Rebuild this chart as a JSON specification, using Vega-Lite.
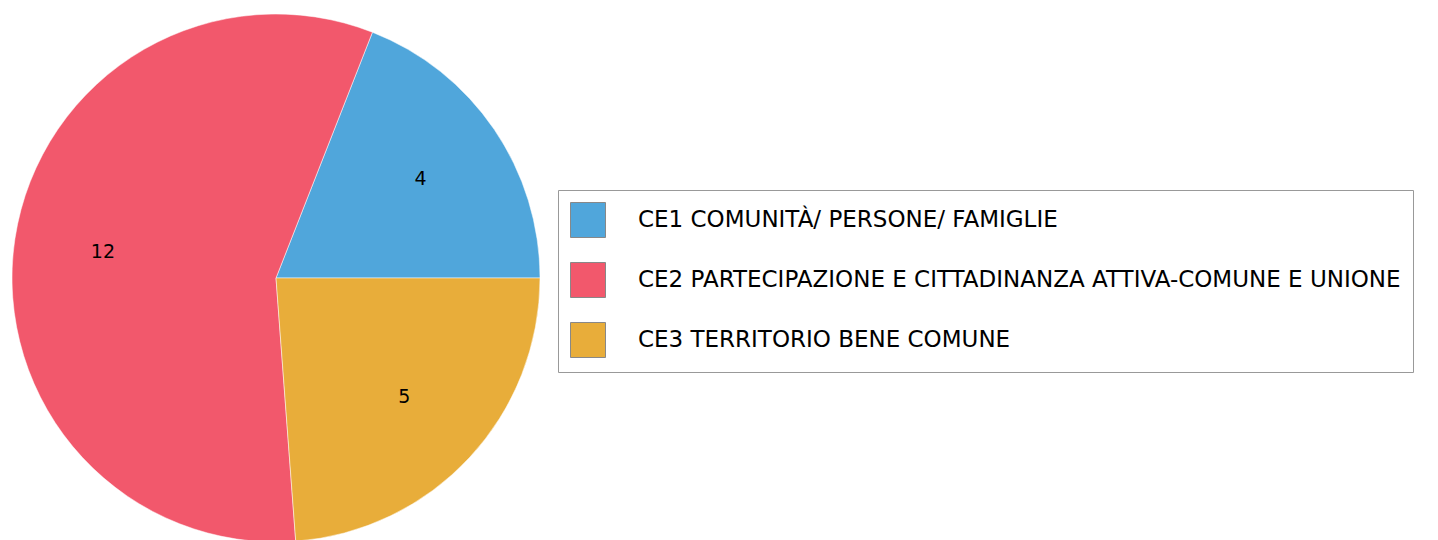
{
  "$schema": "https://vega.github.io/schema/vega-lite/v6.json",
  "width": 552,
  "height": 556,
  "autosize": "none",
  "padding": {"left": 0, "top": 0, "right": 886, "bottom": 0},
  "background": "white",
  "config": {"view": {"stroke": null}},
  "data": {
    "values": [
      {"categoria": "CE1 COMUNITÀ/ PERSONE/ FAMIGLIE", "valore": 4},
      {"categoria": "CE2 PARTECIPAZIONE E CITTADINANZA ATTIVA-COMUNE E UNIONE", "valore": 12},
      {"categoria": "CE3 TERRITORIO BENE COMUNE", "valore": 5}
    ]
  },
  "encoding": {
    "theta": {"field": "valore", "type": "quantitative", "stack": true, "scale": {"range": [{"expr": "PI/2"}, {"expr": "-3*PI/2"}]}},
    "order": {"field": "categoria", "sort": "ascending"},
    "color": {
      "field": "categoria",
      "type": "nominal",
      "scale": {
        "domain": ["CE1 COMUNITÀ/ PERSONE/ FAMIGLIE", "CE2 PARTECIPAZIONE E CITTADINANZA ATTIVA-COMUNE E UNIONE", "CE3 TERRITORIO BENE COMUNE"],
        "range": ["#50A6DB", "#F2586C", "#E8AD3A"]
      },
      "legend": {
        "title": null,
        "orient": "none",
        "legendX": 558,
        "legendY": 190,
        "symbolType": "square",
        "symbolSize": 1225,
        "symbolStrokeColor": "#888888",
        "symbolStrokeWidth": 1,
        "symbolOpacity": 1,
        "labelFont": "DejaVu Sans",
        "labelFontSize": 23,
        "labelColor": "#000000",
        "labelOffset": 32,
        "labelLimit": 1000,
        "rowPadding": 20,
        "padding": 12,
        "fillColor": "white",
        "strokeColor": "#999999"
      }
    }
  },
  "layer": [
    {"mark": {"type": "arc", "outerRadius": 264, "stroke": "white", "strokeWidth": 0.5}},
    {
      "mark": {"type": "text", "radius": 175, "font": "DejaVu Sans", "fontSize": 19},
      "encoding": {
        "text": {"field": "valore", "type": "quantitative"},
        "color": {"value": "#000000"}
      }
    }
  ]
}
